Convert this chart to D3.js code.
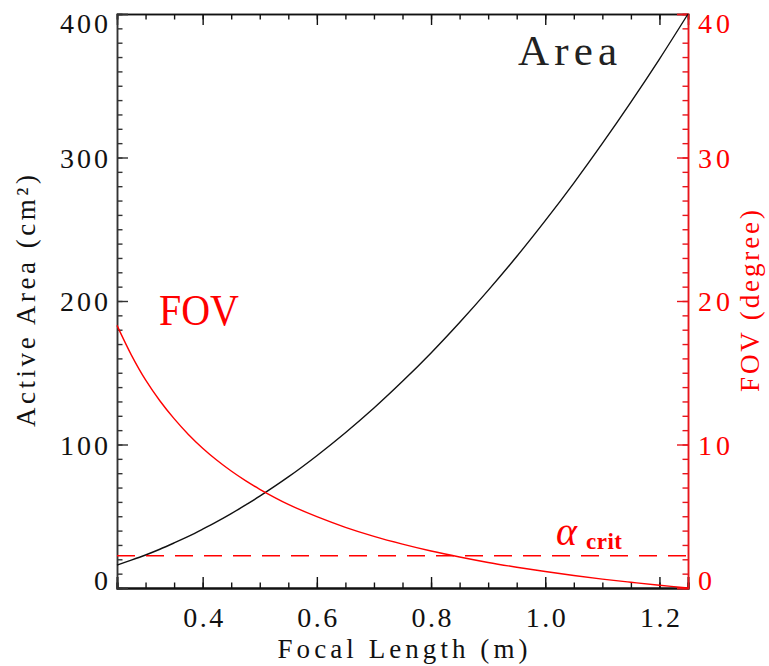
<!DOCTYPE html>
<html>
<head>
<meta charset="utf-8">
<script src="https://cdn.jsdelivr.net/npm/d3@7"></script>
<style>
  html, body { margin: 0; padding: 0; background: #fff; }
  svg text { font-family: "Liberation Serif", "DejaVu Serif", serif; }
</style>
</head>
<body>
<svg id="chart" width="769" height="666"></svg>
<script>
// ---- data ----
const focalLength = [0.25, 0.275, 0.30, 0.325, 0.35, 0.375, 0.40, 0.425, 0.45, 0.475, 0.50,
                     0.55, 0.60, 0.65, 0.70, 0.75, 0.80, 0.85, 0.90, 0.95, 1.00,
                     1.05, 1.10, 1.15, 1.20, 1.25];
const activeArea  = [16, 19.4, 23, 27, 31.4, 36, 41, 46.2, 51.8, 57.8, 64,
                     77.4, 92.2, 108.2, 125.4, 144, 163.8, 185, 207.4, 231, 256,
                     282.2, 309.8, 338.6, 368.6, 400];
const fovDegree   = [18.3, 16.25, 14.5, 13.05, 11.8, 10.7, 9.74, 8.9, 8.15, 7.48, 6.88,
                     5.83, 4.97, 4.23, 3.60, 3.06, 2.58, 2.16, 1.78, 1.45, 1.15,
                     0.87, 0.62, 0.40, 0.19, 0.0];
const alphaCrit = 2.25;
const xMajorTicks = [0.4, 0.6, 0.8, 1.0, 1.2];
const leftMajorTicks = [0, 100, 200, 300, 400];
const rightMajorTicks = [0, 10, 20, 30, 40];

// ---- layout ----
const L = 117, R = 688, T = 14, B = 588;
const svg = d3.select("#chart");
const x = d3.scaleLinear().domain([0.25, 1.25]).range([L, R]);
const yL = d3.scaleLinear().domain([0, 400]).range([B, T]);
const yR = d3.scaleLinear().domain([0, 40]).range([B, T]);

const black = "#111", red = "#ff0000", redAxis = "#e8141b";
const fs = 28;
const FONT = "Liberation Serif";

function widthFor(s) {
  let w = 0;
  for (const c of s) w += (c === ".") ? 8 : 16;
  return w;
}

const xMinor = d3.range(0.25, 1.2501, 0.05).map(v => +v.toFixed(2));
const yLMinor = d3.range(0, 401, 10);
const yRMinor = d3.range(0, 41, 1);

function styleAxis(g, color, width) {
  g.attr("font-family", FONT);
  g.select(".domain").attr("stroke", color).attr("stroke-width", width);
  g.selectAll(".tick line").attr("stroke", color).attr("stroke-width", 1.4);
}

// bottom axis
const gBmin = svg.append("g").attr("transform", `translate(0,${B})`)
  .call(d3.axisBottom(x).tickValues(xMinor).tickSize(-5.5).tickFormat(""));
styleAxis(gBmin, black, 2);
const gB = svg.append("g").attr("transform", `translate(0,${B})`)
  .call(d3.axisBottom(x).tickValues(xMajorTicks).tickSize(-11).tickPadding(19)
        .tickFormat(d3.format(".1f")));
styleAxis(gB, black, 2);
gB.selectAll(".tick text").attr("font-size", fs).attr("fill", black)
  .attr("font-family", FONT)
  .attr("textLength", function(d){ return widthFor(d3.format(".1f")(d)); })
  .attr("lengthAdjust", "spacing");

// top axis
const gTmin = svg.append("g").attr("transform", `translate(0,${T})`)
  .call(d3.axisTop(x).tickValues(xMinor).tickSize(-5.5).tickFormat(""));
styleAxis(gTmin, black, 1.5);
const gT = svg.append("g").attr("transform", `translate(0,${T})`)
  .call(d3.axisTop(x).tickValues(xMajorTicks).tickSize(-11).tickFormat(""));
styleAxis(gT, black, 1.5);

// left axis
const gLmin = svg.append("g").attr("transform", `translate(${L},0)`)
  .call(d3.axisLeft(yL).tickValues(yLMinor).tickSize(-5.5).tickFormat(""));
styleAxis(gLmin, "#333", 1.5);
const gL = svg.append("g").attr("transform", `translate(${L},0)`)
  .call(d3.axisLeft(yL).tickValues(leftMajorTicks).tickSize(-11).tickPadding(9));
styleAxis(gL, "#333", 1.5);
gL.selectAll(".tick text").attr("font-size", fs).attr("fill", black)
  .attr("font-family", FONT)
  .attr("textLength", d => widthFor(String(d))).attr("lengthAdjust", "spacing")
  .attr("dy", d => d === 400 ? "0.66em" : (d === 0 ? "0.04em" : "0.34em"));

// right axis
const gRmin = svg.append("g").attr("transform", `translate(${R},0)`)
  .call(d3.axisRight(yR).tickValues(yRMinor).tickSize(-5.5).tickFormat(""));
styleAxis(gRmin, redAxis, 1.5);
const gR = svg.append("g").attr("transform", `translate(${R},0)`)
  .call(d3.axisRight(yR).tickValues(rightMajorTicks).tickSize(-11).tickPadding(10));
styleAxis(gR, redAxis, 1.5);
gR.selectAll(".tick text").attr("font-size", fs).attr("fill", red)
  .attr("font-family", FONT)
  .attr("textLength", d => widthFor(String(d))).attr("lengthAdjust", "spacing")
  .attr("dy", d => d === 40 ? "0.66em" : (d === 0 ? "0.04em" : "0.34em"));

// curves
const areaLine = d3.line().x((d, i) => x(focalLength[i])).y(d => yL(d)).curve(d3.curveCatmullRom.alpha(0.5));
svg.append("path").datum(activeArea).attr("d", areaLine)
  .attr("fill", "none").attr("stroke", black).attr("stroke-width", 1.4);

const fovLine = d3.line().x((d, i) => x(focalLength[i])).y(d => yR(d)).curve(d3.curveCatmullRom.alpha(0.5));
svg.append("path").datum(fovDegree).attr("d", fovLine)
  .attr("fill", "none").attr("stroke", red).attr("stroke-width", 1.4);

// alpha_crit dashed line
svg.append("line")
  .attr("x1", x(0.25)).attr("x2", x(1.25))
  .attr("y1", yR(alphaCrit)).attr("y2", yR(alphaCrit))
  .attr("stroke", red).attr("stroke-width", 1.4).attr("stroke-dasharray", "18,11");

// annotations
svg.append("text").attr("x", 518).attr("y", 65).attr("font-size", 43)
  .attr("font-family", FONT)
  .attr("fill", "#222").attr("textLength", 99).attr("lengthAdjust", "spacing")
  .text("Area");
svg.append("text").attr("x", 159).attr("y", 325).attr("font-size", 44)
  .attr("font-family", FONT)
  .attr("fill", red).attr("textLength", 80).attr("lengthAdjust", "spacingAndGlyphs")
  .text("FOV");

const ac = svg.append("text").attr("x", 556).attr("y", 545).attr("fill", red)
  .attr("font-family", FONT);
ac.append("tspan").attr("font-size", 40).attr("font-style", "italic").text("α");
ac.append("tspan").attr("x", 586).attr("y", 549).attr("font-size", 23)
  .attr("font-weight", "bold").attr("textLength", 36).attr("lengthAdjust", "spacing").text("crit");

// axis titles
svg.append("text").attr("x", (L + R) / 2).attr("y", 658).attr("text-anchor", "middle")
  .attr("font-family", FONT)
  .attr("font-size", 27).attr("fill", black)
  .attr("textLength", 250).attr("lengthAdjust", "spacing")
  .text("Focal Length (m)");

svg.append("text").attr("transform", `translate(35,${(T + B) / 2}) rotate(-90)`)
  .attr("font-family", FONT)
  .attr("text-anchor", "middle").attr("font-size", 27).attr("fill", black)
  .attr("textLength", 252).attr("lengthAdjust", "spacing")
  .text("Active Area (cm²)");

svg.append("text").attr("transform", `translate(759,${(T + B) / 2}) rotate(-90)`)
  .attr("font-family", FONT)
  .attr("text-anchor", "middle").attr("font-size", 27).attr("fill", red)
  .attr("textLength", 182).attr("lengthAdjust", "spacing")
  .text("FOV (degree)");
</script>
</body>
</html>
